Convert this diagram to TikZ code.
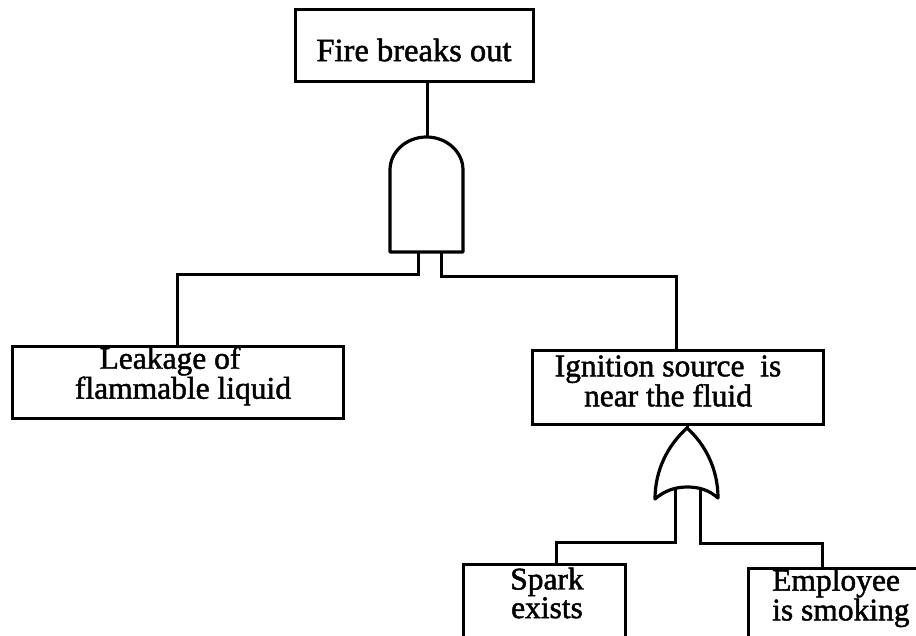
\documentclass[tikz,border=0pt]{standalone}
\usepackage{fontspec}
\setmainfont{Liberation Serif}
\newfontfamily\scanfont[FakeBold=1.5]{Liberation Serif}
\begin{document}
\begin{tikzpicture}[x=1pt,y=-1pt,
  box/.style={draw, line width=3pt, inner sep=0pt},
  txt/.style={inner sep=0pt, align=center, font=\scanfont\fontsize{31.5}{23}\selectfont},
  wire/.style={line width=3pt},
  gate/.style={line width=3.2pt, line join=round}]
\useasboundingbox (0,0) rectangle (916,636);
\clip (0,0) rectangle (916,636);
% boxes
\node[box, minimum width=238pt, minimum height=72pt] (top) at (414,46) {};
\node[txt, font=\scanfont\fontsize{32.5}{23}\selectfont] (toptxt) at (414,50) {Fire breaks out};
\node[box, minimum width=331pt, minimum height=71pt] (leak) at (177.5,382.5) {};
\node[txt] (leaktxt) at (183,376) {Leakage of\hspace*{26pt}\\flammable liquid};
\node[box, minimum width=291pt, minimum height=73pt] (ign) at (677.5,387.5) {};
\node[txt] (igntxt) at (668,381) {Ignition source\ \ is\\near the fluid};
\node[box, minimum width=162pt, minimum height=96pt] (spark) at (544,612) {};
\node[txt] (sparktxt) at (547,593) {Spark\\exists};
\node[box, minimum width=212pt, minimum height=92pt] (emp) at (854,614) {};
\node[txt, align=left, anchor=west] (emptxt) at (772,598) {Employee\\is smoking};
% AND gate
\coordinate (andtop) at (427,137);
\coordinate (andL) at (418,252);
\coordinate (andR) at (441,252);
\draw[gate] (390,252) -- (390,170) arc[start angle=180, end angle=0, x radius=36.5pt, y radius=33pt] -- (463,252) -- cycle;
% OR gate
\coordinate (orapex) at (687,428);
\coordinate (orL) at (675,489);
\coordinate (orR) at (700,489);
\draw[gate] (687,428) .. controls (668,445) and (655,470) .. (655,499)
  .. controls (664,491) and (675,487) .. (687,487)
  .. controls (699,487) and (709,490) .. (718,498)
  .. controls (718,470) and (706,445) .. (687,428);
% connector ends
\coordinate (sparkin) at (556,564);
\coordinate (empin) at (822,568);
\coordinate (leakin) at (177,347);
\coordinate (ignin) at (676,351);
% connectors
\draw[wire] (top.south -| andtop) -- (andtop);
\draw[wire] (andL) -- (418,275) -| (leakin);
\draw[wire] (andR) -- (441,277) -| (ignin);
\draw[wire] (ign.south -| orapex) -- (orapex);
\draw[wire] (orL) -- (675,542) -| (sparkin);
\draw[wire] (orR) -- (700,543) -| (empin);
\end{tikzpicture}
\end{document}
